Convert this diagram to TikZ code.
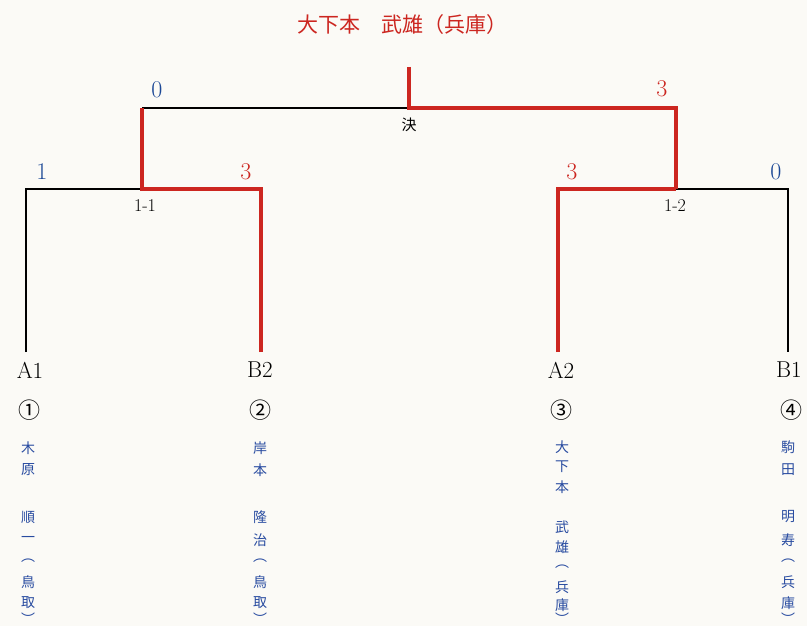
\documentclass[tikz,border=0pt]{standalone}
\usepackage{fontspec}
\newfontfamily\cjk{Noto Sans CJK JP}
\definecolor{paper}{RGB}{251,250,246}
\definecolor{winred}{RGB}{204,38,32}
\definecolor{scoreblue}{RGB}{28,72,150}
\definecolor{nameblue}{RGB}{40,75,160}
\tikzset{
  loseline/.style={draw=black,line width=1.8pt,line join=miter},
  winline/.style={draw=winred,line width=4pt,line join=miter},
  seedlabel/.style={font=\fontsize{23}{23}\selectfont,inner sep=0pt},
  bluescore/.style={font=\fontsize{24}{24}\selectfont,text=scoreblue,inner sep=0pt},
  redscore/.style={font=\fontsize{24}{24}\selectfont,text=winred,inner sep=0pt},
  matchlabel/.style={font=\fontsize{18}{18}\selectfont,inner sep=0pt},
  circnum/.style={font=\cjk\fontsize{22}{22}\selectfont,inner sep=0pt},
  namechar/.style={font=\cjk\fontsize{14}{14}\selectfont,text=nameblue,inner sep=0pt},
  titletext/.style={font=\cjk\fontsize{21}{21}\selectfont,text=winred,inner sep=0pt}
}
\begin{document}
\begin{tikzpicture}[x=1pt,y=-1pt]
\fill[paper] (0,0) rectangle (807,626);
\useasboundingbox (0,0) rectangle (807,626);
% junction coordinates
\coordinate (a1b) at (26,352);
\coordinate (a1t) at (26,189);
\coordinate (m1) at (142,189);
\coordinate (b2t) at (261,189);
\coordinate (b2b) at (261,352);
\coordinate (m1t) at (142,108);
\coordinate (fin) at (409,108);
\coordinate (fint) at (409,67);
\coordinate (m2t) at (676,108);
\coordinate (m2) at (676,189);
\coordinate (a2t) at (558,189);
\coordinate (a2b) at (558,352);
\coordinate (b1t) at (788,189);
\coordinate (b1b) at (788,352);
% losing lines
\draw[loseline] (a1b) -- (a1t) -- (m1);
\draw[loseline] (m1t) -- (fin);
\draw[loseline] (m2) -- (b1t) -- (b1b);
% winning lines
\draw[winline] (b2b) -- (b2t) -- (m1) -- (m1t);
\draw[winline] (fint) -- (fin) -- (m2t) -- (m2);
\draw[winline] (a2b) -- (a2t) -- (m2);
% title
\node[titletext] (title) at (402,25) {大下本　武雄（兵庫）};
% scores
\node[bluescore] (s1) at (42,172) {1};
\node[redscore] (s2) at (246,172) {3};
\node[bluescore] (s3) at (157,90) {0};
\node[redscore] (s4) at (662,89) {3};
\node[redscore] (s5) at (572,172) {3};
\node[bluescore] (s6) at (776,172) {0};
% match labels
\node[matchlabel] (l11) at (145,206) {1-1};
\node[matchlabel] (l12) at (675,206) {1-2};
\node[font=\cjk\fontsize{15}{15}\selectfont,inner sep=0pt] (lfin) at (409,125) {決};
% seeds
\node[seedlabel] (A1) at (30,370) {A1};
\node[seedlabel] (B2) at (260,370) {B2};
\node[seedlabel] (A2) at (561,370) {A2};
\node[seedlabel] (B1) at (789,370) {B1};
% circled numbers
\node[circnum] (c1) at (29,410) {①};
\node[circnum] (c2) at (260,410) {②};
\node[circnum] (c3) at (561,410) {③};
\node[circnum] (c4) at (791,410) {④};
% names (vertical)
\foreach \ch/\yy [count=\i] in {木/448,原/470,順/517,一/539,︵/561,鳥/582,取/603,︶/619}
  \node[namechar] (na\i) at (28,\yy) {\ch};
\foreach \ch/\yy [count=\i] in {岸/448,本/470,隆/517,治/540,︵/561,鳥/582,取/603,︶/619}
  \node[namechar] (nb\i) at (260,\yy) {\ch};
\foreach \ch/\yy [count=\i] in {大/447,下/467,本/487,武/527,雄/547,︵/567,兵/587,庫/605,︶/619}
  \node[namechar] (nc\i) at (562,\yy) {\ch};
\foreach \ch/\yy [count=\i] in {駒/447,田/470,明/517,寿/540,︵/561,兵/582,庫/603,︶/619}
  \node[namechar] (nd\i) at (788,\yy) {\ch};
\end{tikzpicture}
\end{document}
